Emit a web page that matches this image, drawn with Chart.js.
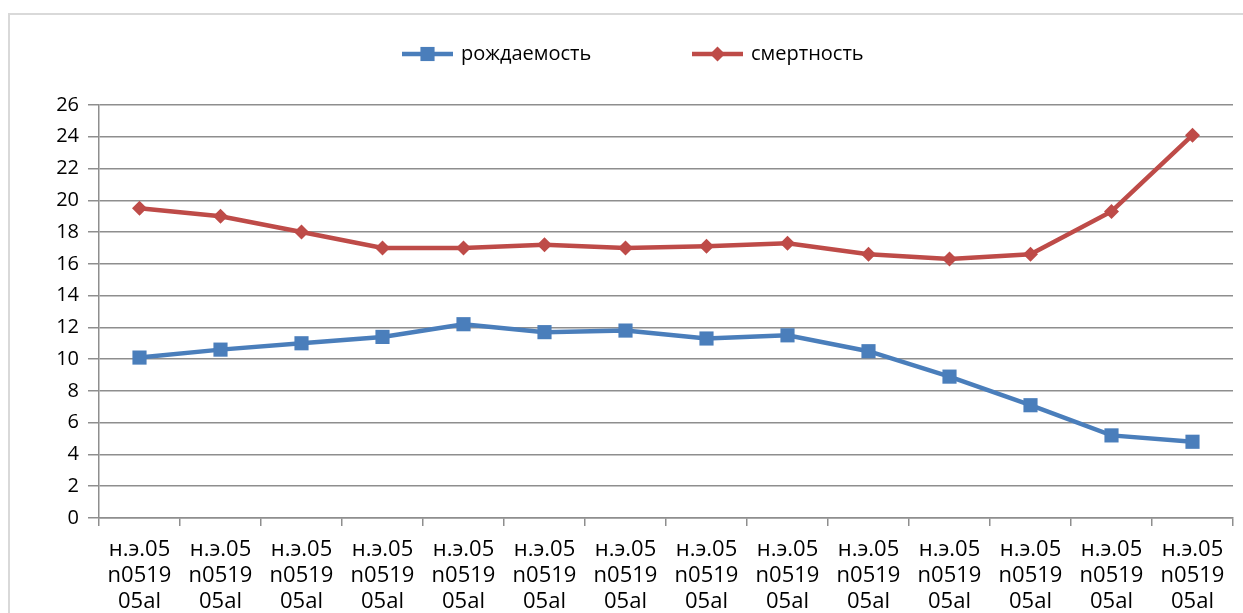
<!DOCTYPE html>
<html lang="ru">
<head>
<meta charset="utf-8">
<title>Рождаемость и смертность</title>
<script src="https://cdn.jsdelivr.net/npm/chart.js@4.4.1/dist/chart.umd.min.js"></script>
<style>
  html, body {
    margin: 0;
    padding: 0;
    background: #ffffff;
    overflow: hidden;
  }
  #frame {
    position: absolute;
    left: 8px;
    top: 13px;
    width: 1300px;
    height: 700px;
    border-top: 2px solid #d9d9d9;
    border-left: 2px solid #d9d9d9;
  }
  #wrap {
    position: absolute;
    left: 0;
    top: 0;
    width: 1243px;
    height: 613px;
  }
</style>
</head>
<body>
<div id="frame"></div>
<div id="wrap"><canvas id="chart" width="1243" height="613"></canvas></div>
<script>
  // ===============================
  // Данные
  // ===============================
  const categories = [
    "н.э.05 n0519 05al", "н.э.05 n0519 05al", "н.э.05 n0519 05al", "н.э.05 n0519 05al",
    "н.э.05 n0519 05al", "н.э.05 n0519 05al", "н.э.05 n0519 05al", "н.э.05 n0519 05al",
    "н.э.05 n0519 05al", "н.э.05 n0519 05al", "н.э.05 n0519 05al", "н.э.05 n0519 05al",
    "н.э.05 n0519 05al", "н.э.05 n0519 05al"
  ];
  const birthRate = [10.1, 10.6, 11.0, 11.4, 12.2, 11.7, 11.8, 11.3, 11.5, 10.5, 8.9, 7.1, 5.2, 4.8];
  const deathRate = [19.5, 19.0, 18.0, 17.0, 17.0, 17.2, 17.0, 17.1, 17.3, 16.6, 16.3, 16.6, 19.3, 24.1];
  const yTicks = { min: 0, max: 26, step: 2 };

  const BLUE = "#4a7ebb";
  const RED = "#be4b48";
  const GRID = "#8e8e8e";
  const FONT = "'Open Sans', 'Liberation Sans', sans-serif";

  // ===============================
  // Легенда (линия + маркер + подпись)
  // ===============================
  const lineLegend = {
    id: "lineLegend",
    afterDraw(chart) {
      const ctx = chart.ctx;
      const spots = [402, 692]; // начало линии каждого элемента
      const y = 54;
      ctx.save();
      chart.data.datasets.forEach((ds, i) => {
        const x0 = spots[i];
        const len = 51;
        ctx.strokeStyle = ds.borderColor;
        ctx.lineWidth = ds.borderWidth;
        ctx.beginPath();
        ctx.moveTo(x0, y);
        ctx.lineTo(x0 + len, y);
        ctx.stroke();

        ctx.fillStyle = ds.backgroundColor;
        Chart.helpers.drawPoint(ctx, {
          pointStyle: ds.pointStyle,
          radius: ds.pointRadius,
          rotation: 0,
          borderWidth: 0
        }, x0 + len / 2, y);

        ctx.fillStyle = "#000000";
        ctx.font = "20px " + FONT;
        ctx.textBaseline = "middle";
        ctx.textAlign = "left";
        ctx.fillText(ds.label, x0 + len + 8, y);
      });
      ctx.restore();
    }
  };

  // ===============================
  // График
  // ===============================
  const ctx = document.getElementById("chart");
  new Chart(ctx, {
    type: "line",
    data: {
      labels: categories.map((c) => c.split(" ")),
      datasets: [
        {
          label: "рождаемость",
          data: birthRate,
          borderColor: BLUE,
          backgroundColor: BLUE,
          borderWidth: 4.5,
          pointStyle: "rect",
          pointRadius: 10,
          pointBorderWidth: 0,
          tension: 0
        },
        {
          label: "смертность",
          data: deathRate,
          borderColor: RED,
          backgroundColor: RED,
          borderWidth: 4.5,
          pointStyle: "rectRot",
          pointRadius: 7.5,
          pointBorderWidth: 0,
          tension: 0
        }
      ]
    },
    options: {
      responsive: false,
      animation: false,
      layout: {
        padding: { top: 105, right: 6, left: 0, bottom: 0 }
      },
      plugins: {
        legend: { display: false },
        tooltip: { enabled: false }
      },
      scales: {
        x: {
          offset: true,
          grid: {
            offset: true,
            drawOnChartArea: false,
            color: GRID,
            lineWidth: 1.5,
            tickLength: 8
          },
          border: { color: GRID, width: 1.5 },
          ticks: {
            color: "#000000",
            maxRotation: 0,
            autoSkip: false,
            padding: 11,
            font: { family: FONT, size: 22, lineHeight: 1.18 }
          },
          afterFit(scale) {
            scale.height = 95;
          }
        },
        y: {
          min: yTicks.min,
          max: yTicks.max,
          grid: {
            color: GRID,
            lineWidth: 1.5,
            tickLength: 11
          },
          border: { color: GRID, width: 1.5 },
          ticks: {
            stepSize: yTicks.step,
            color: "#000000",
            padding: 9,
            font: { family: FONT, size: 20 }
          },
          afterFit(scale) {
            scale.width = 99;
          }
        }
      }
    },
    plugins: [lineLegend]
  });
</script>
</body>
</html>
